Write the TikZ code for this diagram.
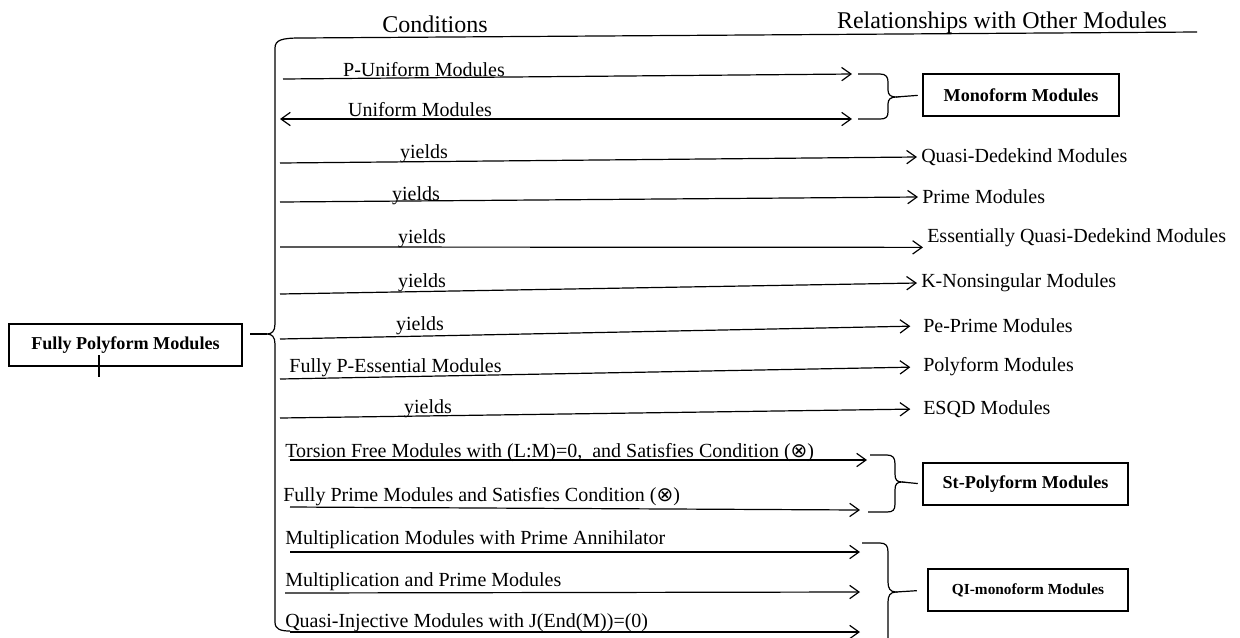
\documentclass[tikz,border=0pt]{standalone}
\usepackage{fontspec}
\setmainfont{Liberation Serif}
\newfontfamily\otfont{DejaVu Sans}
\usetikzlibrary{arrows.meta}
\tikzset{
  arr/.style={-{Straight Barb[length=7pt,width=10pt]}, line width=0.9pt},
  darr/.style={{Straight Barb[length=7pt,width=10pt]}-{Straight Barb[length=7pt,width=10pt]}, line width=0.9pt},
  lbl/.style={font=\fontsize{15}{18}\selectfont, inner sep=0pt},
  rlbl/.style={lbl, anchor=west, inner xsep=3pt},
  head/.style={font=\fontsize{18}{21}\selectfont, inner sep=0pt},
  modbox/.style={draw, line width=0.9pt, minimum height=31.5pt, font=\bfseries\fontsize{13.6}{16}\selectfont},
  brace/.style={line width=0.9pt},
}
\begin{document}
\begin{tikzpicture}[x=0.75pt,y=-0.75pt]
\useasboundingbox (0,0) rectangle (1240,637);

\node[head] (cond) at (435,24) {Conditions};
\node[head] (rel) at (1002,23) {Relationships with Other Modules};

% left box and big brace
\node[modbox, minimum width=174.75pt] (fpm) at (125.5,345) {Fully Polyform Modules};
\draw[line width=0.9pt] (99,355) -- (99,377);
\coordinate (lbstub) at (250,334);
\coordinate (lbtip) at (267,334);
\draw[brace] (1197,32) -- (300,38) .. controls (282,38) and (275,40) .. (275,48) -- (275,324)
  .. controls (275,331) and (272,334) .. (lbtip) .. controls (272,334) and (275,337) .. (275,344)
  -- (275,622) .. controls (275,629) and (280,631) .. (290,631);
\draw[brace] (lbstub) -- (lbtip);

% monoform group
\coordinate (s1) at (283,79);
\coordinate (t1) at (852,74);
\coordinate (s2) at (280,119);
\coordinate (t2) at (852,119);
\draw[arr] (s1) -- (t1);
\draw[darr] (s2) -- (t2);
\node[lbl] (pu) at (424,70) {P-Uniform Modules};
\node[lbl] (un) at (420,110) {Uniform Modules};
\node[modbox, minimum width=147pt] (mono) at (1021,95) {Monoform Modules};
\coordinate (mtip) at (896,97);
\draw[brace] (858,74) -- (880,74) .. controls (886,74) and (888,77) .. (888,82) -- (888,90)
  .. controls (888,95) and (891,97) .. (mtip) .. controls (891,97) and (888,99) .. (888,104)
  -- (888,112) .. controls (888,117) and (886,119) .. (880,119) -- (858,119);
\draw[brace, shorten >=3.5pt] (mtip) -- (mono.west);

% single relations
\node[rlbl] (qd) at (917,157) {Quasi-Dedekind Modules};
\node[rlbl] (pm) at (918,197) {Prime Modules};
\node[rlbl] (eqd) at (923,238) {Essentially Quasi-Dedekind Modules};
\node[rlbl] (kn) at (917,283) {K-Nonsingular Modules};
\node[rlbl] (pep) at (919,326) {Pe-Prime Modules};
\node[rlbl] (pf) at (919,367) {Polyform Modules};
\node[rlbl] (esqd) at (919,409) {ESQD Modules};

\coordinate (s3) at (280,163);
\coordinate (s4) at (280,202);
\coordinate (s5) at (280,247);
\coordinate (s6) at (280,294);
\coordinate (s7) at (280,339);
\coordinate (s8) at (280,379);
\coordinate (s9) at (280,418);
\draw[arr] (s3) -- (qd.west);
\draw[arr] (s4) -- (pm.west);
\draw[arr] (s5) -- (eqd.south west);
\draw[arr] (s6) -- (kn.west);
\draw[arr, shorten >=6.5pt] (s7) -- (pep.west);
\draw[arr, shorten >=6.5pt] (s8) -- (pf.west);
\draw[arr, shorten >=6.5pt] (s9) -- (esqd.west);

\node[lbl] (y1) at (424,154) {yields};
\node[lbl] (y2) at (416,196) {yields};
\node[lbl] (y3) at (422,239) {yields};
\node[lbl] (y4) at (422,283) {yields};
\node[lbl] (y5) at (420,326) {yields};
\node[lbl] (fpe) at (395.5,368) {Fully P-Essential Modules};
\node[lbl] (y6) at (428,409) {yields};

% st-polyform group
\node[lbl, anchor=west] (tf) at (285,453) {Torsion Free Modules with (L:M)=0,\ \ and Satisfies Condition ({\otfont ⊗})};
\node[lbl, anchor=west] (fpr) at (283,497) {Fully Prime Modules and Satisfies Condition ({\otfont ⊗})};
\coordinate (s10) at (290,460);
\coordinate (st1) at (867,460);
\coordinate (s11) at (290,507);
\coordinate (st2) at (860,510);
\draw[arr] (s10) -- (st1);
\draw[arr] (s11) -- (st2);
\node[modbox, minimum width=153.75pt] (stp) at (1025.5,484) {St-Polyform Modules};
\coordinate (stip) at (902,482);
\draw[brace] (870,455) -- (887,455) .. controls (893,455) and (895,458) .. (895,464) -- (895,474)
  .. controls (895,480) and (897,482) .. (stip) .. controls (897,482) and (895,484) .. (895,490)
  -- (895,504) .. controls (895,510) and (893,512) .. (887,512) -- (868,512);
\draw[brace, shorten >=3.5pt] (stip) -- (stp.west);

% qi-monoform group
\node[lbl, anchor=west] (mpa) at (285,540) {Multiplication Modules with Prime Annihilator};
\node[lbl, anchor=west] (mpm) at (285,582) {Multiplication and Prime Modules};
\node[lbl, anchor=west] (qin) at (285,623) {Quasi-Injective Modules with J(End(M))=(0)};
\coordinate (s12) at (290,552);
\coordinate (q1) at (860,552);
\coordinate (s13) at (285,593);
\coordinate (q2) at (860,592);
\coordinate (s14) at (290,632);
\coordinate (q3) at (860,632);
\draw[arr] (s12) -- (q1);
\draw[arr] (s13) -- (q2);
\draw[arr] (s14) -- (q3);
\node[modbox, minimum width=150pt, font=\bfseries\fontsize{11.5}{14}\selectfont] (qi) at (1028,590) {QI-monoform Modules};
\coordinate (qtip) at (896,592);
\draw[brace] (862,543) -- (880,543) .. controls (886,543) and (888,546) .. (888,552) -- (888,582)
  .. controls (888,588) and (890,592) .. (qtip) .. controls (890,592) and (888,596) .. (888,602)
  -- (888,640);
\draw[brace, shorten >=8pt] (qtip) -- (qi.west);
\end{tikzpicture}
\end{document}
